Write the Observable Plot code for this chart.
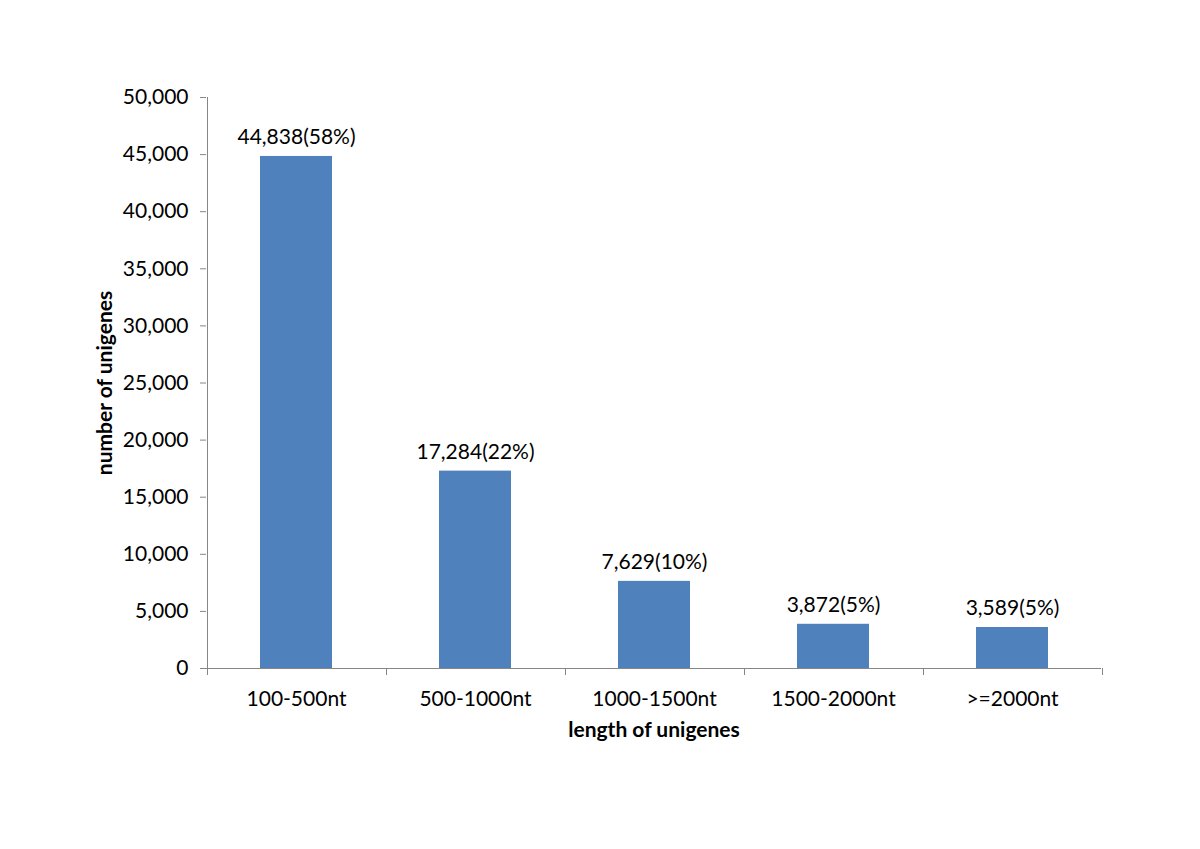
<!DOCTYPE html>
<html>
<head>
<meta charset="utf-8">
<script src="https://cdn.jsdelivr.net/npm/d3@7"></script>
<script src="https://cdn.jsdelivr.net/npm/@observablehq/plot@0.6"></script>
<style>
  html, body { margin: 0; padding: 0; background: #fff; }
  #chart svg { display: block; font-family: Lato, "Open Sans", sans-serif; }
</style>
</head>
<body>
<div id="chart"></div>
<script>
const categories = ["100-500nt", "500-1000nt", "1000-1500nt", "1500-2000nt", ">=2000nt"];
const counts = [44838, 17284, 7629, 3872, 3589];
const percents = ["58%", "22%", "10%", "5%", "5%"];
const yTicks = [0, 5000, 10000, 15000, 20000, 25000, 30000, 35000, 40000, 45000, 50000];
const xTitle = "length of unigenes";
const yTitle = "number of unigenes";

const data = categories.map((c, i) => ({
  cat: c,
  value: counts[i],
  label: d3.format(",")(counts[i]) + "(" + percents[i] + ")"
}));

const axisColor = "#868686";
const FS = 21;

function boundaryTicks(index, scales, values, dimensions) {
  const x = scales.x;
  const y = scales.y;
  const step = x.step ? x.step() : (dimensions.width - dimensions.marginLeft - dimensions.marginRight) / categories.length;
  const first = x(categories[0]) - (x.bandwidth ? (step - x.bandwidth()) / 2 : 0);
  const y0 = y(0);
  const g = d3.create("svg:g").attr("stroke", axisColor).attr("stroke-width", 1).attr("shape-rendering", "crispEdges");
  for (let i = 0; i <= categories.length; i++) {
    const xx = Math.round(first + i * step) + 0.5;
    g.append("line").attr("x1", xx).attr("x2", xx).attr("y1", y0).attr("y2", y0 + 7);
  }
  const lx = Math.round(first) + 0.5;
  g.append("line").attr("x1", lx).attr("x2", lx).attr("y1", y(50000)).attr("y2", y0);
  return g.node();
}

const chart = Plot.plot({
  width: 1200,
  height: 849,
  marginTop: 97,
  marginBottom: 181,
  marginLeft: 206,
  marginRight: 99,
  style: { fontFamily: "Lato, 'Open Sans', sans-serif", fontSize: FS + "px", color: "#000", background: "#fff" },
  x: { domain: categories, paddingInner: 0.6, paddingOuter: 0.3, label: null },
  y: { domain: [0, 50000], label: null },
  marks: [
    Plot.barY(data, { x: "cat", y: "value", fill: "#4F81BD" }),
    Plot.ruleY([0], { stroke: axisColor, strokeWidth: 1 }),
    boundaryTicks,
    Plot.axisY({ ticks: yTicks, tickFormat: d3.format(","), tickSize: 6, tickPadding: 12, stroke: axisColor, fill: "#000", fontSize: FS, label: null }),
    Plot.axisX({ tickSize: 0, tickPadding: 23, fill: "#000", fontSize: FS, label: null }),
    Plot.text(data, { x: "cat", y: "value", text: "label", dy: -19, fontSize: FS, fill: "#000" }),
    Plot.text([yTitle], { frameAnchor: "left", textAnchor: "middle", dx: -101, rotate: -90, fontSize: FS, fontWeight: "bold", fill: "#000" }),
    Plot.text([xTitle], { frameAnchor: "bottom", lineAnchor: "middle", dy: 62, fontSize: FS, fontWeight: "bold", fill: "#000" })
  ]
});

document.getElementById("chart").appendChild(chart);
</script>
</body>
</html>
